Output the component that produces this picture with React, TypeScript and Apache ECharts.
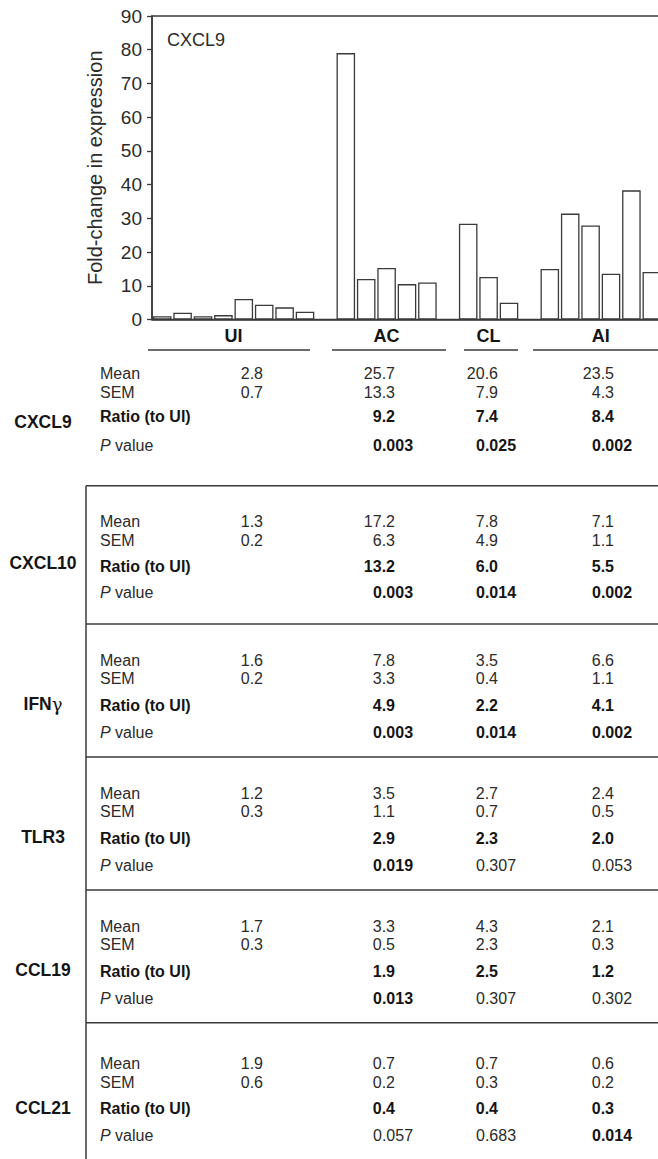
import React, { useEffect, useRef } from "react";
import * as echarts from "echarts";

// ---------- data ----------
const groupNames = ["UI", "AC", "CL", "AI"];
const uiBars = [1.0, 2.0, 1.0, 1.3, 6.1, 4.4, 3.6, 2.3];
const acBars = [79.0, 12.0, 15.3, 10.5, 11.0];
const clBars = [28.4, 12.6, 5.0];
const aiBars = [15.0, 31.4, 27.9, 13.6, 38.3, 14.1];
const yMin = 0;
const yMax = 90;
const yStep = 10;
const panelLabel = "CXCL9";
const yAxisTitle = "Fold-change in expression";

const genes = ["CXCL9", "CXCL10", "IFNγ", "TLR3", "CCL19", "CCL21"];
const rowLabels = ["Mean", "SEM", "Ratio (to UI)", "P value"];
const meanByGene = [
  [2.8, 25.7, 20.6, 23.5],
  [1.3, 17.2, 7.8, 7.1],
  [1.6, 7.8, 3.5, 6.6],
  [1.2, 3.5, 2.7, 2.4],
  [1.7, 3.3, 4.3, 2.1],
  [1.9, 0.7, 0.7, 0.6],
];
const semByGene = [
  [0.7, 13.3, 7.9, 4.3],
  [0.2, 6.3, 4.9, 1.1],
  [0.2, 3.3, 0.4, 1.1],
  [0.3, 1.1, 0.7, 0.5],
  [0.3, 0.5, 2.3, 0.3],
  [0.6, 0.2, 0.3, 0.2],
];
const ratioByGene = [
  [9.2, 7.4, 8.4],
  [13.2, 6.0, 5.5],
  [4.9, 2.2, 4.1],
  [2.9, 2.3, 2.0],
  [1.9, 2.5, 1.2],
  [0.4, 0.4, 0.3],
];
const pByGene = [
  [0.003, 0.025, 0.002],
  [0.003, 0.014, 0.002],
  [0.003, 0.014, 0.002],
  [0.019, 0.307, 0.053],
  [0.013, 0.307, 0.302],
  [0.057, 0.683, 0.014],
];
const significance = 0.05;

// ---------- layout (pixels) ----------
const FONT = "'Liberation Sans', Arial, Helvetica, sans-serif";
const INK = "#2b2b2b";
const BOLD_INK = "#151515";
const LINE = "#3a3a3a";
const GRID = { left: 152, top: 16, width: 510, height: 303.5 };
const underlines = [
  [148, 310],
  [332, 446],
  [464, 518],
  [533, 670],
];
const groupLabelY = 336;
const underlineY = 350;
const colRight = [263, 395, 498, 614];
const pOffset = 22;
const rowLabelX = 100;
const geneLabelX = 43;
const boxLeft = 86;
const boxTop = 485.7;
const separators = [624, 757, 890, 1022.7];
// row y (centre) for each gene: mean, sem, ratio, p, gene label
const rowYs = [
  [373.3, 392.3, 416.7, 445, 421.7],
  [521.7, 540, 566, 592.7, 563],
  [660, 678.5, 705, 732, 704],
  [793, 811.5, 838, 865, 837],
  [926, 944.5, 971, 998, 970],
  [1063.7, 1082.2, 1108.7, 1135.7, 1107.7],
];

export default function App() {
  const ref = useRef<HTMLDivElement>(null);

  useEffect(() => {
    if (!ref.current) return;
    const chart = echarts.init(ref.current, undefined, { renderer: "svg" });

    const groups = [uiBars, acBars, clBars, aiBars];
    const values: any[] = [];
    const slotGroup: number[][] = [];
    groups.forEach((g, gi) => {
      if (gi > 0) values.push("-");
      const idx: number[] = [];
      g.forEach((v) => {
        idx.push(values.length);
        values.push(v);
      });
      slotGroup.push(idx);
    });
    const cats = values.map((_, i) => "s" + i);

    chart.setOption({
      animation: false,
      grid: {
        left: GRID.left,
        top: GRID.top,
        width: GRID.width,
        height: GRID.height,
        show: true,
        borderColor: LINE,
        borderWidth: 1.5,
        backgroundColor: "transparent",
        containLabel: false,
        outerBoundsMode: "none",
      },
      xAxis: {
        type: "category",
        data: cats,
        axisLine: { lineStyle: { color: LINE, width: 1.5 } },
        axisTick: { show: false },
        axisLabel: { show: false },
        splitLine: { show: false },
      },
      yAxis: {
        type: "value",
        min: yMin,
        max: yMax,
        interval: yStep,
        axisLine: { show: true, lineStyle: { color: LINE, width: 1.5 } },
        axisTick: { show: true, length: 5, lineStyle: { color: LINE, width: 1.3 } },
        axisLabel: { fontSize: 19, color: INK, margin: 10, fontFamily: FONT },
        splitLine: { show: false },
        name: yAxisTitle,
        nameLocation: "middle",
        nameGap: 47,
        nameTextStyle: { fontSize: 20, color: INK, fontFamily: FONT },
      },
      series: [
        {
          type: "bar",
          data: values,
          barCategoryGap: "9%",
          itemStyle: { color: "#ffffff", borderColor: LINE, borderWidth: 1.3 },
          silent: true,
        },
      ],
    });

    const els: any[] = [];
    const txt = (
      text: string,
      x: number,
      y: number,
      size: number,
      weight: string,
      align: string,
      fill: string,
      rich?: any
    ) => {
      els.push({
        type: "text",
        silent: true,
        style: {
          text,
          x,
          y,
          fontSize: size,
          fontWeight: weight,
          fontFamily: FONT,
          fill,
          align,
          verticalAlign: "middle",
          rich,
        },
      });
    };
    const hline = (x1: number, x2: number, y: number) =>
      els.push({
        type: "line",
        silent: true,
        shape: { x1, y1: y, x2, y2: y },
        style: { stroke: LINE, lineWidth: 1.5 },
      });
    const vline = (x: number, y1: number, y2: number) =>
      els.push({
        type: "line",
        silent: true,
        shape: { x1: x, y1, x2: x, y2 },
        style: { stroke: LINE, lineWidth: 1.5 },
      });

    // panel label
    txt(panelLabel, 167, 40, 18, "normal", "left", INK);

    // group labels & underlines
    groupNames.forEach((name, gi) => {
      const idx = slotGroup[gi];
      const a = chart.convertToPixel({ xAxisIndex: 0 }, idx[0]) as number;
      const b = chart.convertToPixel({ xAxisIndex: 0 }, idx[idx.length - 1]) as number;
      txt(name, (a + b) / 2, groupLabelY, 18, "bold", "center", BOLD_INK);
      hline(underlines[gi][0], underlines[gi][1], underlineY);
    });

    // box lines
    hline(boxLeft, 680, boxTop);
    separators.forEach((y) => hline(boxLeft, 680, y));
    vline(boxLeft, boxTop, 1160);

    // table
    genes.forEach((gene, g) => {
      const ys = rowYs[g];
      if (gene.endsWith("γ")) {
        txt("{b|" + gene.slice(0, -1) + "}{n|γ}", geneLabelX, ys[4], 17.5, "bold", "center", BOLD_INK, {
          b: { fontSize: 17.5, fontWeight: "bold", fontFamily: FONT, fill: BOLD_INK },
          n: { fontSize: 18, fontWeight: "normal", fontFamily: "'DejaVu Serif', serif", fill: BOLD_INK },
        });
      } else {
        txt(gene, geneLabelX, ys[4], 17.5, "bold", "center", BOLD_INK);
      }
      txt(rowLabels[0], rowLabelX, ys[0], 16, "normal", "left", INK);
      txt(rowLabels[1], rowLabelX, ys[1], 16, "normal", "left", INK);
      txt(rowLabels[2], rowLabelX, ys[2], 16, "bold", "left", BOLD_INK);
      txt("{i|P}{r| value}", rowLabelX, ys[3], 16, "normal", "left", INK, {
        i: { fontSize: 16, fontStyle: "italic", fontFamily: FONT, fill: INK },
        r: { fontSize: 16, fontFamily: FONT, fill: INK },
      });
      meanByGene[g].forEach((v, c) => txt(v.toFixed(1), colRight[c], ys[0], 16, "normal", "right", INK));
      semByGene[g].forEach((v, c) => txt(v.toFixed(1), colRight[c], ys[1], 16, "normal", "right", INK));
      ratioByGene[g].forEach((v, c) => txt(v.toFixed(1), colRight[c + 1], ys[2], 16, "bold", "right", BOLD_INK));
      pByGene[g].forEach((v, c) => {
        const sig = v < significance;
        txt(v.toFixed(3), colRight[c + 1] - pOffset, ys[3], 16, sig ? "bold" : "normal", "left", sig ? BOLD_INK : INK);
      });
    });

    chart.setOption({ graphic: { elements: els } });

    return () => chart.dispose();
  }, []);

  return (
    <div
      style={{
        position: "absolute",
        left: 0,
        top: 0,
        width: 658,
        height: 1159,
        overflow: "hidden",
        background: "#fff",
      }}
    >
      <div ref={ref} style={{ width: 680, height: 1159 }} />
    </div>
  );
}
